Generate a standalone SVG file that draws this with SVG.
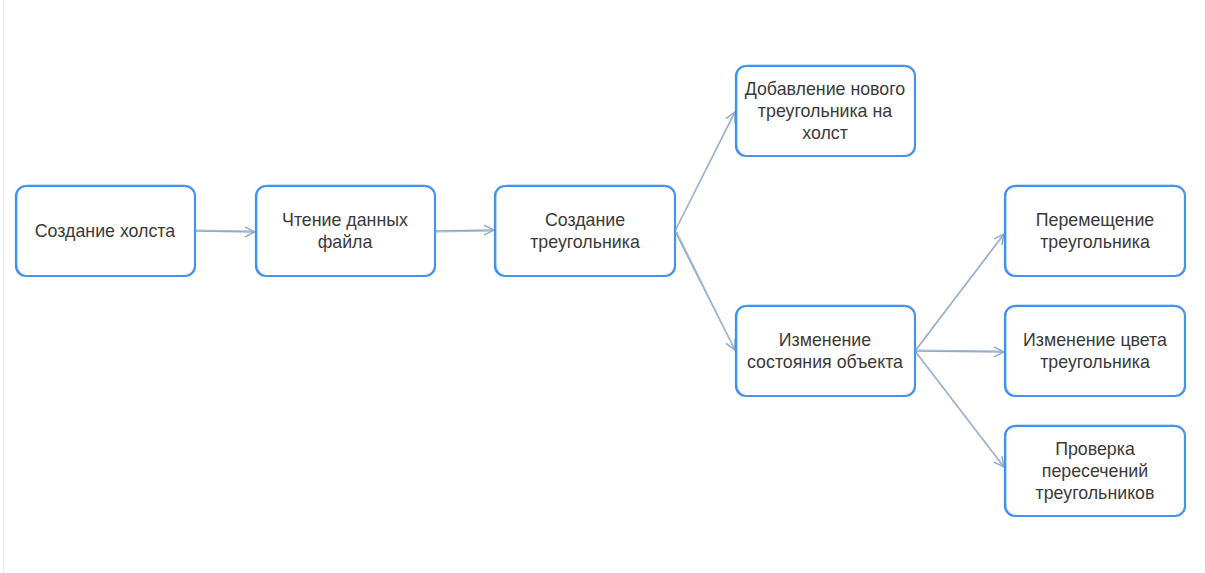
<svg xmlns="http://www.w3.org/2000/svg" width="1205" height="573" viewBox="0 0 1205 573">
<defs>
<style>
.box{fill:#fff;stroke:#3b8ff0;stroke-width:2.2}
.box2{fill:none;stroke:#5aa0f2;stroke-width:1;opacity:.7}
.t{font-family:"Liberation Sans",Arial,sans-serif;font-size:17.8px;fill:#3a3a3a;text-anchor:middle}
.c{stroke:#8fa9c9;stroke-width:1.6;fill:none}
.c2{stroke:#a4b9d4;stroke-width:1;fill:none}
</style>
<marker id="ah" viewBox="0 0 12 12" refX="11" refY="6" markerWidth="12" markerHeight="12" markerUnits="userSpaceOnUse" orient="auto">
<path d="M1,1 L11,6 L1,11" fill="none" stroke="#8fa9c9" stroke-width="1.5"/>
</marker>
</defs>
<rect width="1205" height="573" fill="#fff"/>
<line x1="3.5" y1="0" x2="3.5" y2="573" stroke="#ececec" stroke-width="1"/>
<g id="connectors">
<path class="c" d="M195,231 L255,232" marker-end="url(#ah)"/>
<path class="c2" d="M196,230 L254,231"/>
<path class="c" d="M435,231 L494,230" marker-end="url(#ah)"/>
<path class="c2" d="M436,232 L493,231"/>
<path class="c" d="M675,231 L735,112" marker-end="url(#ah)"/>
<path class="c2" d="M676,229 L734,113"/>
<path class="c" d="M675,231 L735,350" marker-end="url(#ah)"/>
<path class="c2" d="M677,232 L734,348"/>
<path class="c" d="M915,351 L1004,234" marker-end="url(#ah)"/>
<path class="c2" d="M917,349 L1003,236"/>
<path class="c" d="M915,351 L1004,352" marker-end="url(#ah)"/>
<path class="c2" d="M916,350 L1003,351"/>
<path class="c" d="M915,351 L1004,467" marker-end="url(#ah)"/>
<path class="c2" d="M917,353 L1003,466"/>
</g>
<g id="n1">
<rect class="box" x="16" y="186" width="179" height="90" rx="10"/>
<rect class="box2" x="17" y="185" width="178" height="91" rx="11"/>
<text class="t" x="105" y="237">Создание холста</text>
</g>
<g id="n2">
<rect class="box" x="256" y="186" width="179" height="90" rx="10"/>
<rect class="box2" x="257" y="185" width="178" height="91" rx="11"/>
<text class="t" x="345" y="226">Чтение данных</text>
<text class="t" x="345" y="248">файла</text>
</g>
<g id="n3">
<rect class="box" x="495" y="186" width="180" height="90" rx="10"/>
<rect class="box2" x="496" y="185" width="179" height="91" rx="11"/>
<text class="t" x="585" y="226">Создание</text>
<text class="t" x="585" y="248">треугольника</text>
</g>
<g id="n4">
<rect class="box" x="736" y="66" width="179" height="90" rx="10"/>
<rect class="box2" x="737" y="65" width="178" height="91" rx="11"/>
<text class="t" x="825" y="95">Добавление нового</text>
<text class="t" x="825" y="117">треугольника на</text>
<text class="t" x="825" y="139">холст</text>
</g>
<g id="n5">
<rect class="box" x="736" y="306" width="179" height="90" rx="10"/>
<rect class="box2" x="737" y="305" width="178" height="91" rx="11"/>
<text class="t" x="825" y="346">Изменение</text>
<text class="t" x="825" y="368">состояния объекта</text>
</g>
<g id="n6">
<rect class="box" x="1005" y="186" width="180" height="90" rx="10"/>
<rect class="box2" x="1006" y="185" width="179" height="91" rx="11"/>
<text class="t" x="1095" y="226">Перемещение</text>
<text class="t" x="1095" y="248">треугольника</text>
</g>
<g id="n7">
<rect class="box" x="1005" y="306" width="180" height="90" rx="10"/>
<rect class="box2" x="1006" y="305" width="179" height="91" rx="11"/>
<text class="t" x="1095" y="346">Изменение цвета</text>
<text class="t" x="1095" y="368">треугольника</text>
</g>
<g id="n8">
<rect class="box" x="1005" y="426" width="180" height="90" rx="10"/>
<rect class="box2" x="1006" y="425" width="179" height="91" rx="11"/>
<text class="t" x="1095" y="455">Проверка</text>
<text class="t" x="1095" y="477">пересечений</text>
<text class="t" x="1095" y="499">треугольников</text>
</g>
</svg>
